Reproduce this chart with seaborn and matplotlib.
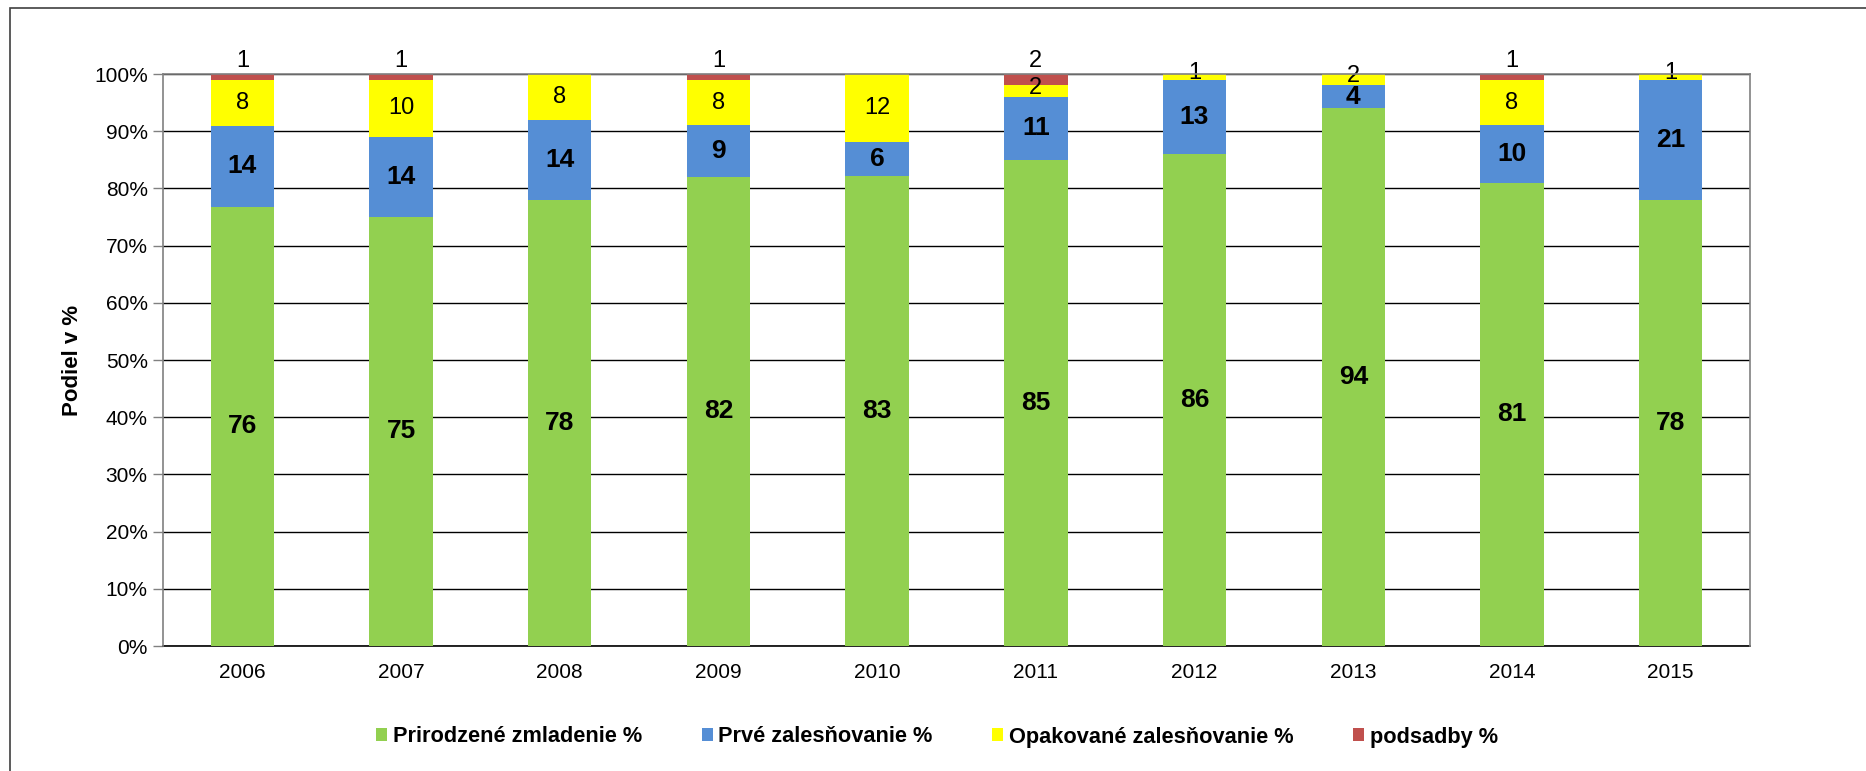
import numpy as np
import pandas as pd
import matplotlib
matplotlib.use("Agg")
import matplotlib.pyplot as plt
import seaborn as sns
from matplotlib.patches import Rectangle, Patch

# --- Data ---
years = ["2006", "2007", "2008", "2009", "2010", "2011", "2012", "2013", "2014", "2015"]
prirodzene = [76, 75, 78, 82, 83, 85, 86, 94, 81, 78]
prve = [14, 14, 14, 9, 6, 11, 13, 4, 10, 21]
opakovane = [8, 10, 8, 8, 12, 2, 1, 2, 8, 1]
podsadby = [1, 1, 0, 1, 0, 2, 0, 0, 1, 0]

series_names = ["Prirodzené zmladenie %", "Prvé zalesňovanie %",
                "Opakované zalesňovanie %", "podsadby %"]
colors = ["#92D050", "#558ED5", "#FFFF00", "#C0504D"]

vals = np.array([prirodzene, prve, opakovane, podsadby], dtype=float)
pct = vals / vals.sum(axis=0) * 100  # 100% stacked
cum = np.cumsum(pct, axis=0)

df = pd.DataFrame({"rok": years})
for i in range(4):
    df[f"c{i}"] = cum[i]

sns.set_style("white")
plt.rcParams["font.family"] = ["Liberation Sans", "DejaVu Sans"]
plt.rcParams["text.color"] = "black"
plt.rcParams["xtick.labelcolor"] = "black"
plt.rcParams["ytick.labelcolor"] = "black"
plt.rcParams["axes.labelcolor"] = "black"

fig = plt.figure(figsize=(18.66, 7.71), dpi=100)
ax = fig.add_axes([163 / 1866, 1 - 646 / 771, (1750 - 163) / 1866, (646 - 74) / 771])

# draw from the top layer down so lower layers cover upper ones
for i in [3, 2, 1, 0]:
    sns.barplot(data=df, x="rok", y=f"c{i}", color=colors[i], width=0.4,
                saturation=1, ax=ax, zorder=3, linewidth=0)

# --- Labels ---
for j in range(len(years)):
    lo = 0.0
    for i in range(4):
        v = vals[i, j]
        hi = cum[i, j]
        if v > 0:
            if i == 3:
                ax.text(j, 100.3, f"{int(v)}", ha="center", va="bottom",
                        fontsize=17, zorder=5)
            elif i == 2:
                ax.text(j, (lo + hi) / 2 + (0.6 if v < 3 else 0), f"{int(v)}",
                        ha="center", va="center", fontsize=17, zorder=5)
            else:
                ax.text(j, (lo + hi) / 2, f"{int(v)}", ha="center", va="center",
                        fontsize=19, fontweight="bold", zorder=5)
        lo = hi

ax.set_ylim(0, 100)
ax.set_xlim(-0.5, len(years) - 0.5)
ax.set_yticks(np.arange(0, 101, 10))
ax.set_yticklabels([f"{t}%" for t in range(0, 101, 10)], fontsize=15)
ax.tick_params(axis="x", which="major", length=0, labelsize=15, pad=12)
ax.set_xticks(np.arange(-0.5, len(years), 1), minor=True)
ax.tick_params(axis="x", which="minor", length=8, color="#808080", width=1)
ax.tick_params(axis="y", length=7, color="#808080", width=1, left=True, pad=4)
ax.yaxis.grid(True, color="black", linewidth=1)
ax.set_axisbelow(True)
for s in ["left", "right", "top"]:
    ax.spines[s].set_color("#808080")
    ax.spines[s].set_linewidth(1.2)
    ax.spines[s].set_zorder(6)
ax.spines["bottom"].set_color("black")
ax.spines["bottom"].set_linewidth(1.2)

ax.set_xlabel("")
ax.set_ylabel("Podiel v %", fontsize=16, fontweight="bold", labelpad=8)

handles = [Patch(facecolor=c, edgecolor="none") for c in colors]
fig.legend(handles, series_names, loc="center", bbox_to_anchor=(937 / 1866, 1 - 737 / 771),
           ncol=4, frameon=False, handlelength=0.5, handleheight=0.55,
           handletextpad=0.25, columnspacing=2.75, borderpad=0,
           prop={"weight": "bold", "size": 15.7})

# outer chart frame (cropped on right and bottom)
fig.patches.append(Rectangle((10 / 1866, -0.1), 1.2, 1.1 - 8 / 771,
                             transform=fig.transFigure, fill=False,
                             edgecolor="#404040", linewidth=1.2))

fig.savefig("out.png", dpi=100)
